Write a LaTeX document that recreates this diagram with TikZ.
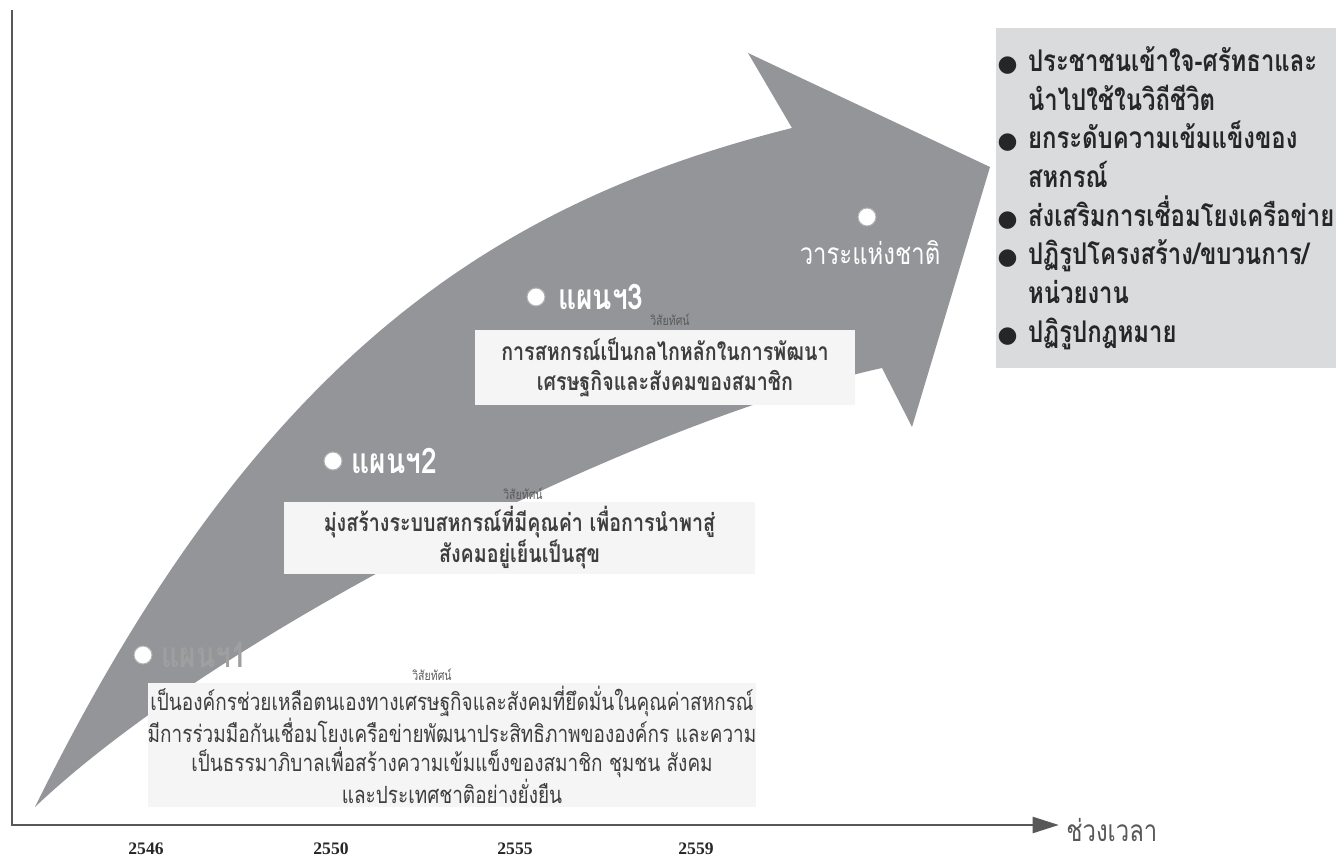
\documentclass[tikz,border=0pt]{standalone}
\usepackage{fontspec}
\setmainfont{Liberation Serif}
\newfontfamily\thaifont[Script=Thai,FakeStretch=0.8]{Loma}
\newfontfamily\dotfont{DejaVu Sans}
\usetikzlibrary{arrows.meta,positioning}
\definecolor{arrowgray}{RGB}{147,149,152}
\definecolor{boxwhite}{RGB}{245,245,245}
\definecolor{panelgray}{RGB}{218,219,221}
\definecolor{axisgray}{RGB}{88,88,88}
\definecolor{textgray}{RGB}{62,62,62}
\newcommand{\blt}{{\dotfont\fontsize{13}{13}\selectfont ●}\hspace{6pt}}
\newcommand{\bltgap}{\hphantom{\blt}}

\begin{document}
\begin{tikzpicture}
[x=0.02cm, y=-0.02cm,
visionbox/.style={rectangle, fill=boxwhite, inner sep=0pt, align=center, text=textgray},
dot/.style={circle, fill=white, draw=gray!60, line width=0.6pt, inner sep=0pt, minimum size=0.36cm},
planlabel/.style={font={\thaifont\bfseries\fontsize{20}{22}\selectfont}, inner sep=0pt, text=white},
tag/.style={font={\thaifont\fontsize{7.5}{8}\selectfont}, text=gray!70!black, inner sep=0pt},
year/.style={font={\bfseries\fontsize{10}{11}\selectfont}, text=black!85, inner sep=0pt}]

\useasboundingbox (0,0) rectangle (1336,857);

\fill[arrowgray] (35,807) .. controls (255,360) and (492,203) .. (792,128)
  -- (748,53) -- (990,167) -- (912,427) -- (882,368)
  .. controls (632,423) and (215,636) .. cycle;

\node[visionbox, minimum width=12.12cm, minimum height=2.48cm,
  font={\thaifont\fontsize{13.5}{16.4}\selectfont}] (vision1) at (452,745)
  {เป็นองค์กรช่วยเหลือตนเองทางเศรษฐกิจและสังคมที่ยึดมั่นในคุณค่าสหกรณ์\\
   มีการร่วมมือกันเชื่อมโยงเครือข่ายพัฒนาประสิทธิภาพขององค์กร และความ\\
   เป็นธรรมาภิบาลเพื่อสร้างความเข้มแข็งของสมาชิก ชุมชน สังคม\\
   และประเทศชาติอย่างยั่งยืน};
\node[visionbox, minimum width=9.42cm, minimum height=1.44cm,
  font={\thaifont\bfseries\fontsize{14}{15.5}\selectfont}] (vision2) at (519.5,538)
  {มุ่งสร้างระบบสหกรณ์ที่มีคุณค่า เพื่อการนำพาสู่\\
   สังคมอยู่เย็นเป็นสุข};
\node[visionbox, minimum width=7.6cm, minimum height=1.5cm,
  font={\thaifont\bfseries\fontsize{14}{17}\selectfont}] (vision3) at (665,367.5)
  {การสหกรณ์เป็นกลไกหลักในการพัฒนา\\
   เศรษฐกิจและสังคมของสมาชิก};

\node[tag] (tag1) at (432,675) {วิสัยทัศน์};
\node[tag] (tag2) at (523,494) {วิสัยทัศน์};
\node[tag] (tag3) at (670,320) {วิสัยทัศน์};

\node[dot] (dot1) at (143,655) {};
\node[planlabel, text=gray!75, right=5pt of dot1] (plan1) {แผนฯ1};
\node[dot] (dot2) at (333,461) {};
\node[planlabel, right=5pt of dot2] (plan2) {แผนฯ2};
\node[dot] (dot3) at (536,297) {};
\node[planlabel, right=7pt of dot3] (plan3) {แผนฯ3};
\node[dot] (dot4) at (867,217) {};
\node[font={\thaifont\fontsize{17}{18}\selectfont}, text=white, inner sep=0pt] (agenda) at (870,253) {วาระแห่งชาติ};

\node[rectangle, fill=panelgray, minimum width=6.82cm, minimum height=6.8cm, inner sep=0pt,
  align=left, text=black!85, font={\thaifont\bfseries\fontsize{17}{22}\selectfont}] (goals) at (1166,198)
  {\blt ประชาชนเข้าใจ-ศรัทธาและ\\
   \bltgap นำไปใช้ในวิถีชีวิต\\
   \blt ยกระดับความเข้มแข็งของ\\
   \bltgap สหกรณ์\\
   \blt ส่งเสริมการเชื่อมโยงเครือข่าย\\
   \blt ปฏิรูปโครงสร้าง/ขบวนการ/\\
   \bltgap หน่วยงาน\\
   \blt ปฏิรูปกฎหมาย};

\coordinate (axistop) at (12,10);
\coordinate (origin) at (12,825);
\node[font={\thaifont\fontsize{17}{18}\selectfont}, text=axisgray, anchor=west, inner sep=0pt] (timeaxis) at (1066,830) {ช่วงเวลา};
\draw[axisgray, line width=1.7pt, line join=miter, shorten >=4pt, -{Triangle[length=15pt,width=9pt]}]
  (axistop) -- (origin) -- (origin -| timeaxis.west);

\node[year] (y2546) at (146,849) {2546};
\node[year] (y2550) at (331,849) {2550};
\node[year] (y2555) at (515,849) {2555};
\node[year] (y2559) at (696,849) {2559};
\end{tikzpicture}
\end{document}
